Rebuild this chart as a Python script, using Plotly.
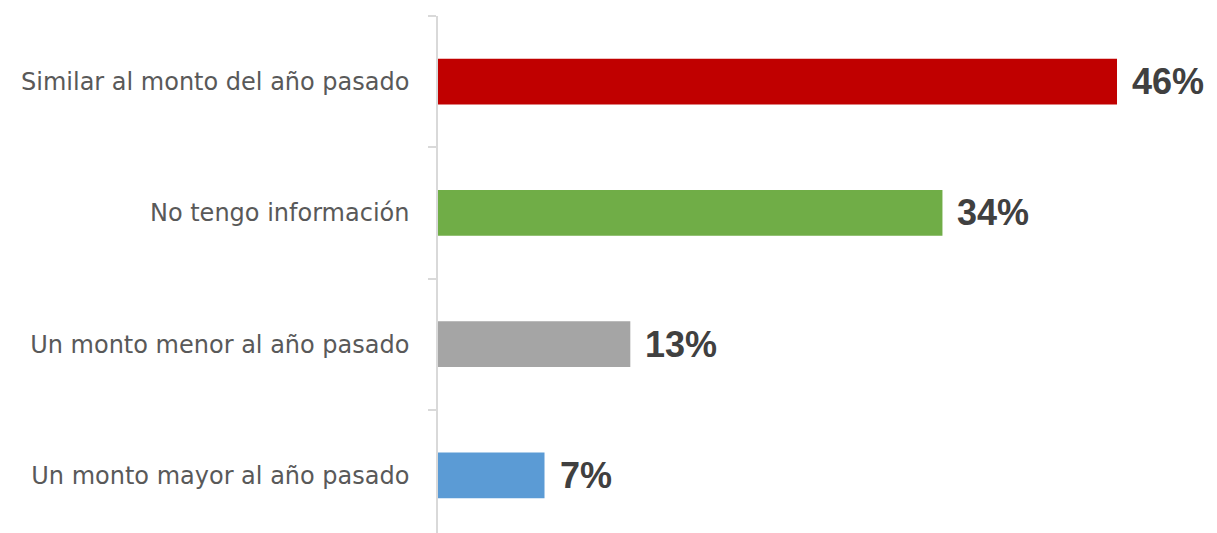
import plotly.graph_objects as go

categories = [
    "Un monto mayor al año pasado",
    "Un monto menor al año pasado",
    "No tengo información",
    "Similar al monto del año pasado",
]
values = [7.2, 13.0, 34.1, 45.9]
labels = ["7%", "13%", "34%", "46%"]
colors = ["#5B9BD5", "#A5A5A5", "#70AD47", "#C00000"]

fig = go.Figure(
    go.Bar(
        x=values,
        y=categories,
        orientation="h",
        marker=dict(color=colors, line=dict(width=0)),
        hoverinfo="skip",
    )
)

for v, c, t in zip(values, categories, labels):
    fig.add_annotation(
        x=v, y=c, text=f"<b>{t}</b>", showarrow=False,
        xanchor="left", yanchor="middle", xshift=13,
        font=dict(family="Liberation Sans, Arial, sans-serif", size=36, color="#404040"),
    )

fig.update_layout(
    width=1217, height=533,
    margin=dict(l=430, r=0, t=8, b=0, autoexpand=False),
    paper_bgcolor="white", plot_bgcolor="white",
    bargap=0.65,
    showlegend=False,
    xaxis=dict(visible=False, range=[0, 53.2], showgrid=False, zeroline=False, automargin=False),
    yaxis=dict(
        type="category",
        categoryorder="array", categoryarray=categories,
        range=[-0.5, 3.5],
        automargin=False,
        showline=True, linecolor="#D9D9D9", linewidth=1.5,
        ticks="outside", tickson="boundaries", ticklen=8, tickcolor="#D9D9D9", tickwidth=1.5,
        showgrid=False, zeroline=False,
        ticklabelstandoff=22,
        tickfont=dict(family="DejaVu Sans, sans-serif", size=24, color="#595959"),
    ),
)

fig.write_html("out.html")
